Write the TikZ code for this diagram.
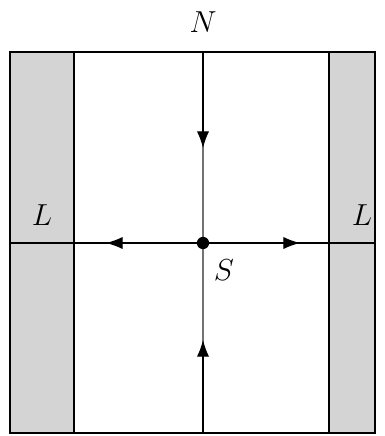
\documentclass[tikz,border=0pt]{standalone}
\usetikzlibrary{arrows.meta}
\begin{document}
\begin{tikzpicture}[x=0.02cm,y=-0.02cm,
    strip/.style={fill=black!17,draw=black,line width=0.6pt},
    flow/.style={-{Latex[length=9.5pt,width=7pt]},line width=0.7pt},
    lab/.style={font=\LARGE}]
  \useasboundingbox (0,0) rectangle (385,436);
  % side strips
  \draw [strip] (10,52) rectangle (74,433);
  \draw [strip] (329,52) rectangle (375,433);
  \coordinate (n) at (203,52);
  \coordinate (b) at (203,433);
  \coordinate (w) at (10,243);
  \coordinate (e) at (375,243);
  \foreach \c/\x/\y in {tn/203/148, tb/203/340, tw/106/243, te/300/243}{
    \coordinate (\c) at (\x,\y);
  }
  \draw [line width=0.6pt, color=black!55] (n) -- (b);
  \draw [line width=0.7pt] (w) -- (e);
  \draw [line width=1.1pt] (10,52) rectangle (375,433);
  \node [fill=black,circle,inner sep=0pt,minimum size=7pt] at (203,243) (s) {};
  \draw [flow] (n) -- (tn);
  \draw [flow] (b) -- (tb);
  \draw [flow] (s) -- (tw);
  \draw [flow] (s) -- (te);
  \node [lab] at (203,22) (ln) {$N$};
  \node [lab] at (42,215) (ll) {$L$};
  \node [lab] at (362,215) (lr) {$L$};
  \node [lab] at (224,270) (ls) {$S$};
\end{tikzpicture}
\end{document}
